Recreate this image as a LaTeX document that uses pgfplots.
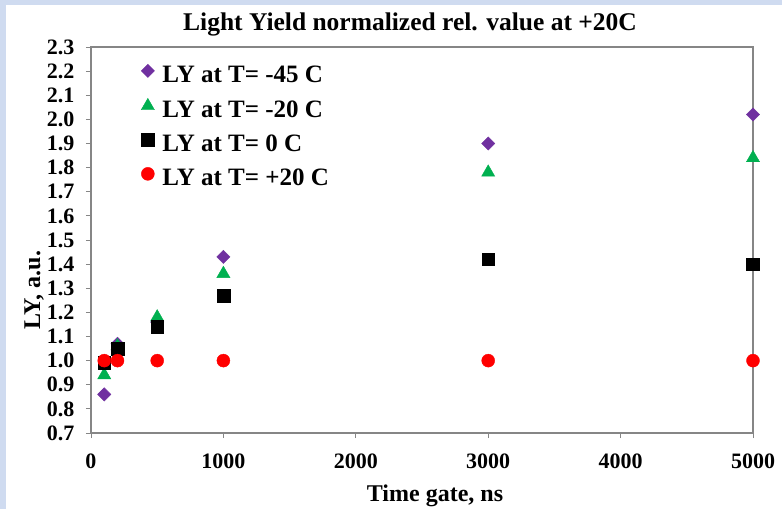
\documentclass[border=0pt]{standalone}
\usepackage{pgfplots}
\pgfplotsset{compat=1.18}
\usepackage{fontspec}
\setmainfont{Liberation Serif}
\definecolor{frameblue}{RGB}{207,219,240}
\definecolor{axisgray}{RGB}{134,134,134}
\definecolor{lypurple}{RGB}{112,48,160}
\definecolor{lygreen}{RGB}{0,176,80}
\definecolor{lyred}{RGB}{255,0,0}

% Light yield vs. time gate, normalized to the +20 C value
\pgfplotstableread{
gate   m45   m20   z0    p20
100    0.86  0.94  0.99  1.00
200    1.07  1.06  1.05  1.00
500    1.16  1.18  1.14  1.00
1000   1.43  1.36  1.27  1.00
3000   1.90  1.78  1.42  1.00
5000   2.02  1.84  1.40  1.00
}\lytable

\begin{document}
\begin{tikzpicture}[x=1pt,y=1pt]
\useasboundingbox (0,0) rectangle (782,509);
\fill[white] (0,0) rectangle (782,509);
\fill[frameblue] (0,504) rectangle (782,509);
\fill[frameblue] (0,0) rectangle (6,509);
\begin{axis}[
  at={(91pt,76pt)}, anchor=south west,
  scale only axis, width=662pt, height=386pt,
  xmin=0, xmax=5000, ymin=0.7, ymax=2.3,
  xtick={0,1000,2000,3000,4000,5000},
  ytick={0.7,0.8,0.9,1.0,1.1,1.2,1.3,1.4,1.5,1.6,1.7,1.8,1.9,2.0,2.1,2.2,2.3},
  xtick pos=bottom, ytick pos=left,
  tick align=outside, major tick length=5pt,
  tick style={axisgray, line width=0.8pt},
  axis line style={axisgray, line width=1.1pt},
  /pgf/number format/assume math mode=true,
  ticklabel style={font=\fontsize{22}{24}\selectfont\bfseries},
  x tick label style={/pgf/number format/1000 sep={}, yshift=-12pt},
  y tick label style={/pgf/number format/.cd, fixed, fixed zerofill, precision=1,
    /tikz/xshift=-8pt},
  legend style={draw=none, fill=none, at={(0,1)}, anchor=north west,
    xshift=47pt, yshift=-15pt,
    font=\fontsize{25}{28}\selectfont\bfseries,
    nodes={inner sep=0pt, text height=17pt, text depth=5pt},
    row sep=10.5pt},
  legend cell align=left,
  legend image code/.code={\draw[#1] plot coordinates {(6pt,6pt)};},
  /tikz/every odd column/.style={column sep=8pt},
]
\addplot[only marks, mark=square*, mark size=4.7pt, color=lypurple,
  mark options={rotate=45}] table[x=gate,y=m45] {\lytable};
\addlegendentry{LY at T= -45 C}
\addplot[only marks, mark=triangle*, mark size=7.6pt, color=lygreen]
  table[x=gate,y=m20] {\lytable};
\addlegendentry{LY at T= -20 C}
\addplot[only marks, mark=square*, mark size=6.4pt, color=black]
  table[x=gate,y=z0] {\lytable};
\addlegendentry{LY at T= 0 C}
\addplot[only marks, mark=*, mark size=6.5pt, color=lyred]
  table[x=gate,y=p20] {\lytable};
\addlegendentry{LY at T= +20 C}
\end{axis}
\node[anchor=base] at (410,478)
  {\fontsize{25.5}{30}\selectfont\bfseries Light Yield normalized rel. value at +20C};
\node[anchor=base] at (435,8)
  {\fontsize{24}{28}\selectfont\bfseries Time gate, ns};
\node[anchor=base, rotate=90] at (40,219)
  {\fontsize{24}{28}\selectfont\bfseries LY, a.u.};
\end{tikzpicture}
\end{document}
